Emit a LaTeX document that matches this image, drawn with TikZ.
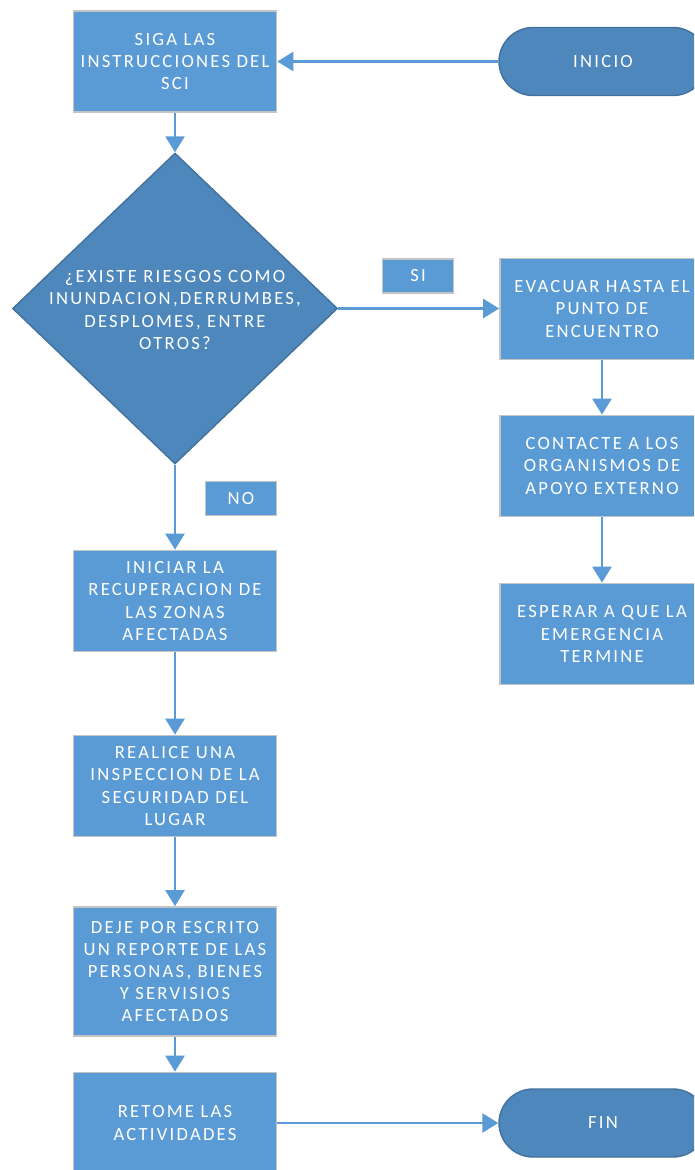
\documentclass[tikz,border=0pt]{standalone}
\usepackage{fontspec}
\setmainfont{Carlito}[LetterSpace=12]
\usetikzlibrary{shapes.geometric,arrows.meta}

\definecolor{boxblue}{HTML}{5B9BD5}
\definecolor{darkblue}{HTML}{4E87BB}
\definecolor{edgeblue}{HTML}{41719C}
\definecolor{boxedge}{HTML}{C4C4C4}

\begin{document}
\begin{tikzpicture}[x=0.02cm, y=-0.02cm,
    every node/.style={text=white, align=center, font=\fontsize{10.6}{12.6}\selectfont},
    stepbox/.style={rectangle, fill=boxblue, draw=boxedge, line width=1pt,
      minimum width=4.06cm, minimum height=2.02cm, inner sep=1pt},
    tagbox/.style={rectangle, fill=boxblue, draw=boxedge, line width=1pt,
      minimum width=1.42cm, minimum height=0.68cm},
    endbox/.style={rectangle, rounded corners=0.68cm, fill=darkblue, draw=edgeblue,
      line width=0.8pt, minimum width=4.16cm, minimum height=1.36cm},
    askbox/.style={diamond, fill=darkblue, draw=edgeblue, line width=0.8pt,
      inner sep=0pt, minimum width=6.5cm, minimum height=6.22cm},
    flow/.style={draw=boxblue, line width=1.5pt, -{Triangle[width=0.38cm,length=0.32cm]}}]
    \clip (0,0) rectangle (694,1170);

    % left column
    \node[stepbox] (siga) at (175,61.5) {SIGA LAS\\INSTRUCCIONES DEL\\SCI};
    \node[askbox] (riesgo) at (175,308.5) {};
    \node (riesgotxt) at (175,310) {¿EXISTE RIESGOS COMO\\INUNDACION,DERRUMBES,\\DESPLOMES, ENTRE\\OTROS?};
    \node[stepbox] (iniciar) at (175,601) {INICIAR LA\\RECUPERACION DE\\LAS ZONAS\\AFECTADAS};
    \node[stepbox] (realice) at (175,786) {REALICE UNA\\INSPECCION DE LA\\SEGURIDAD DEL\\LUGAR};
    \node[stepbox, minimum height=2.58cm] (deje) at (175,971.5) {DEJE POR ESCRITO\\UN REPORTE DE LAS\\PERSONAS, BIENES\\Y SERVISIOS\\AFECTADOS};
    \node[stepbox] (retome) at (175,1123) {RETOME LAS\\ACTIVIDADES};

    % right column
    \node[endbox] (inicio) at (603,61.5) {INICIO};
    \node[stepbox, minimum width=4.08cm] (evacuar) at (602,309) {EVACUAR HASTA EL\\PUNTO DE\\ENCUENTRO};
    \node[stepbox, minimum width=4.08cm] (contacte) at (602,466) {CONTACTE A LOS\\ORGANISMOS DE\\APOYO EXTERNO};
    \node[stepbox, minimum width=4.08cm] (esperar) at (602,634) {ESPERAR A QUE LA\\EMERGENCIA\\TERMINE};
    \node[endbox] (fin) at (603,1123) {FIN};

    % answers
    \node[tagbox] (si) at (418,276) {SI};
    \node[tagbox] (no) at (241,498.5) {NO};

    \draw[flow] (inicio) -- (siga);
    \draw[flow] (siga) -- (riesgo);
    \draw[flow] (riesgo.east) -- (evacuar.west |- riesgo.east);
    \draw[flow] (evacuar) -- (contacte);
    \draw[flow] (contacte) -- (esperar);
    \draw[flow] (riesgo) -- (iniciar);
    \draw[flow] (iniciar) -- (realice);
    \draw[flow] (realice) -- (deje);
    \draw[flow] (deje) -- (retome);
    \draw[flow] (retome) -- (fin);
\end{tikzpicture}
\end{document}
